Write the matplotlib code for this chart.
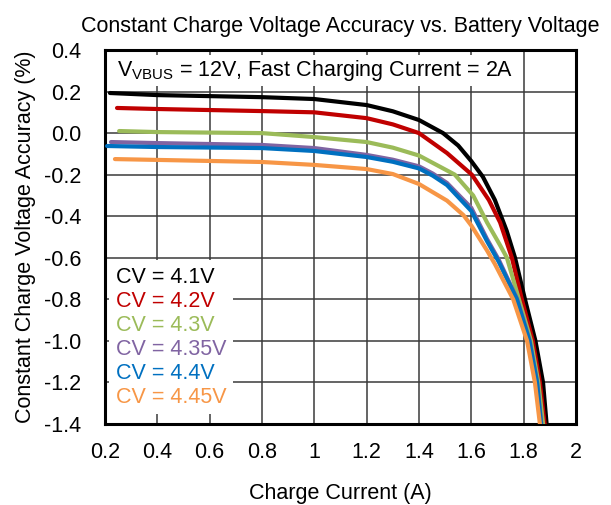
import numpy as np
import matplotlib
matplotlib.use("Agg")
from matplotlib import pyplot as plt

plt.rcParams['font.family'] = ['Liberation Sans', 'DejaVu Sans']
plt.rcParams['mathtext.fontset'] = 'custom'
plt.rcParams['mathtext.rm'] = 'Liberation Sans'
plt.rcParams['axes.unicode_minus'] = False

# podatki odcitani z grafa: tok (A), natancnost (%)
labels = ["CV = 4.1V", "CV = 4.2V", "CV = 4.3V", "CV = 4.35V", "CV = 4.4V", "CV = 4.45V"]
colors = ["#000000", "#C00000", "#9BBB59", "#8064A2", "#0070C0", "#F79646"]

x_41 = [0.219, 0.4, 0.6, 0.8, 1.0, 1.2, 1.3, 1.4, 1.492, 1.55, 1.6, 1.644, 1.69, 1.735, 1.767, 1.805, 1.845, 1.874, 1.889]
y_41 = [0.193, 0.183, 0.178, 0.173, 0.164, 0.135, 0.105, 0.063, 0.0, -0.06, -0.135, -0.21, -0.322, -0.47, -0.6, -0.8, -1.0, -1.2, -1.42]

x_42 = [0.246, 0.4, 0.8, 1.0, 1.2, 1.3, 1.4, 1.507, 1.602, 1.667, 1.71, 1.755, 1.793, 1.835, 1.862, 1.882]
y_42 = [0.121, 0.116, 0.106, 0.10, 0.072, 0.042, 0.0, -0.096, -0.2, -0.322, -0.43, -0.6, -0.8, -1.0, -1.2, -1.42]

x_43 = [0.254, 0.4, 0.8, 1.0, 1.2, 1.3, 1.4, 1.537, 1.607, 1.66, 1.71, 1.736, 1.782, 1.828, 1.856, 1.876]
y_43 = [0.010, 0.005, 0.0, -0.019, -0.043, -0.07, -0.108, -0.2, -0.3, -0.43, -0.54, -0.6, -0.8, -1.0, -1.2, -1.42]

x_435 = [0.223, 0.4, 0.8, 1.0, 1.2, 1.3, 1.4, 1.453, 1.507, 1.6, 1.66, 1.705, 1.774, 1.822, 1.851, 1.869]
y_435 = [-0.043, -0.048, -0.057, -0.072, -0.105, -0.128, -0.16, -0.195, -0.24, -0.36, -0.51, -0.61, -0.795, -0.995, -1.195, -1.42]

x_44 = [0.208, 0.4, 0.8, 1.0, 1.2, 1.3, 1.4, 1.453, 1.507, 1.6, 1.66, 1.705, 1.774, 1.822, 1.851, 1.868]
y_44 = [-0.062, -0.067, -0.072, -0.086, -0.115, -0.138, -0.17, -0.205, -0.25, -0.375, -0.52, -0.62, -0.8, -1.0, -1.2, -1.42]

x_445 = [0.238, 0.4, 0.8, 1.0, 1.2, 1.3, 1.4, 1.507, 1.57, 1.6, 1.66, 1.69, 1.76, 1.813, 1.843, 1.864]
y_445 = [-0.125, -0.129, -0.139, -0.153, -0.173, -0.197, -0.245, -0.325, -0.395, -0.445, -0.565, -0.63, -0.8, -1.0, -1.2, -1.42]

xs = [x_41, x_42, x_43, x_435, x_44, x_445]
ys = [y_41, y_42, y_43, y_435, y_44, y_445]

fig = plt.figure(figsize=(6.11, 5.05), dpi=100)
ax = fig.add_axes([105/611, 1 - 424/505, 471/611, 374/505])

for x, y, c, l in zip(xs, ys, colors, labels):
    ax.plot(x, y, color=c, lw=3, label=l, solid_capstyle='round', solid_joinstyle='round', zorder=3)

fs = 15.5
ax.set_xlim(0.2, 2.0)
ax.set_ylim(-1.4, 0.4)
xt = np.arange(0.2, 2.01, 0.2)
ax.set_xticks(xt)
ax.set_xticklabels(["0.2", "0.4", "0.6", "0.8", "1", "1.2", "1.4", "1.6", "1.8", "2"])
yt = np.arange(-1.4, 0.41, 0.2)
ax.set_yticks(yt)
ax.set_yticklabels(["%.1f" % (round(v, 1) + 0.0) for v in yt])
ax.tick_params(axis='both', length=0, labelsize=fs)
ax.tick_params(axis='x', pad=13)
ax.tick_params(axis='y', pad=17)
ax.grid(True, color='#3a3a3a', lw=1.1, zorder=1)
for s in ax.spines.values():
    s.set_linewidth(2.2)

ax.set_title("Constant Charge Voltage Accuracy vs. Battery Voltage", fontsize=fs, pad=13)
ax.set_xlabel("Charge Current (A)", fontsize=fs, labelpad=14)
ax.set_ylabel("Constant Charge Voltage Accuracy (%)", fontsize=fs, labelpad=6)

ax.text(0.025, 0.945, r"V$_{\mathregular{VBUS}}$ = 12V, Fast Charging Current = 2A",
        transform=ax.transAxes, fontsize=fs, va='center', ha='left', zorder=4,
        bbox=dict(facecolor='white', edgecolor='none', pad=2))

leg = ax.legend(loc='lower left', bbox_to_anchor=(0.0, 0.015), handlelength=0, handletextpad=0,
                fontsize=fs, labelcolor='linecolor', frameon=True, fancybox=False,
                borderpad=0.3, labelspacing=0.14, borderaxespad=0.2)
leg.get_frame().set_edgecolor('none')
leg.get_frame().set_facecolor('white')
leg.get_frame().set_alpha(1)
for h in leg.legend_handles:
    h.set_visible(False)

fig.savefig("out.png", dpi=100)
